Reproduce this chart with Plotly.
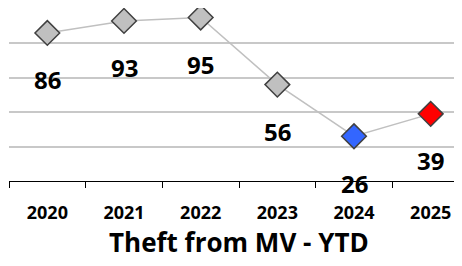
import plotly.graph_objects as go

years = ["2020", "2021", "2022", "2023", "2024", "2025"]
values = [86, 93, 95, 56, 26, 39]
marker_colors = ["#c0c0c0", "#c0c0c0", "#c0c0c0", "#c0c0c0", "#3366ff", "#ff0000"]
title_text = "Theft from MV - YTD"

FONT = "Open Sans"
pos = list(range(len(years)))

fig = go.Figure()
fig.add_trace(go.Scatter(
    x=pos, y=values, mode="lines+markers",
    line=dict(color="#c0c0c0", width=1.5),
    marker=dict(symbol="diamond", size=19, color=marker_colors,
                line=dict(color="#404040", width=1.5)),
    hoverinfo="skip", showlegend=False, cliponaxis=False,
))

for i, v in zip(pos, values):
    fig.add_annotation(x=i, y=v, xref="x", yref="y", text=str(v), showarrow=False,
                       yshift=-47, font=dict(family=FONT, size=24, color="#000000", weight="bold"))

fig.add_annotation(x=0.5, y=-0.355, xref="paper", yref="paper", text=title_text,
                   showarrow=False, xanchor="center", yanchor="middle",
                   font=dict(family=FONT, size=26, color="#000000", weight="bold"))

fig.update_layout(
    width=462, height=266,
    margin=dict(l=1, r=1, t=0, b=93),
    paper_bgcolor="white", plot_bgcolor="white",
    xaxis=dict(range=[-0.5, 5.5], tickvals=pos, ticktext=years, ticks="",
               minor=dict(tick0=-0.5, dtick=1, ticks="outside", ticklen=6,
                          tickcolor="#000000", tickwidth=1, showgrid=False),
               showline=True, linecolor="#000000", linewidth=1,
               showgrid=False, zeroline=False, automargin=False, ticklabelstandoff=15,
               tickfont=dict(family=FONT, size=18, color="#000000", weight="bold")),
    yaxis=dict(range=[0, 100.5], tickvals=[20, 40, 60, 80, 100], showticklabels=False,
               showgrid=True, gridcolor="#c8c8c8", gridwidth=1.5, zeroline=False,
               showline=False, automargin=False),
)

fig.write_html("out.html")
